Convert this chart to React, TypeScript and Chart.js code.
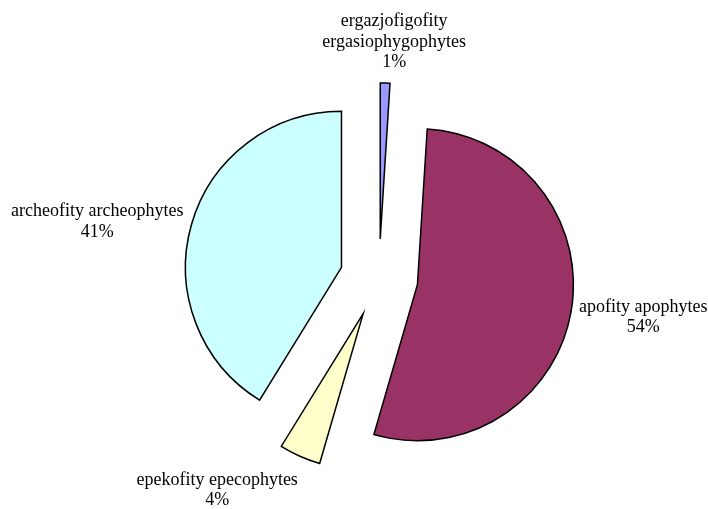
import { useEffect, useRef } from 'react';
import { Chart, ArcElement, PieController, registerables } from 'chart.js';

// Share of each synanthropic group (percent of species)
const categories: string[][] = [
  ['ergazjofigofity', 'ergasiophygophytes'],
  ['apofity apophytes'],
  ['epekofity epecophytes'],
  ['archeofity archeophytes'],
];
const shares: number[] = [1.0, 53.5, 4.3, 41.2];
const sliceColors: string[] = ['#9999FF', '#993366', '#FFFFCC', '#CCFFFF'];

// Distance every slice is pulled out of the pie, and the pie radius
const EXPLODE = 39;
const RADIUS = 156;
const LINE_HEIGHT = 20.5;

// Label block placement relative to the point just outside each slice
const LABEL_PLACEMENT = [
  { align: 'center', dx: 9, dy: -57 },
  { align: 'left', dx: 8, dy: 0 },
  { align: 'right', dx: -2, dy: 28.5 },
  { align: 'right', dx: -8, dy: -8.5 },
];

// Arc that is drawn shifted outward along its mid-angle without changing its radius
class ExplodedArc extends ArcElement {
  static id = 'explodedArc';
  draw(ctx: CanvasRenderingContext2D) {
    const self: any = this;
    const mid = (self.startAngle + self.endAngle) / 2;
    ctx.save();
    ctx.translate(Math.cos(mid) * EXPLODE, Math.sin(mid) * EXPLODE);
    super.draw(ctx);
    ctx.restore();
  }
}

class ExplodedPieController extends PieController {
  static id = 'explodedPie';
  static defaults = { dataElementType: 'explodedArc' };
}

Chart.register(...registerables);
Chart.register(ExplodedArc as any, ExplodedPieController as any);

const sliceLabels = {
  id: 'sliceLabels',
  afterDatasetsDraw(chart: any) {
    const ctx: CanvasRenderingContext2D = chart.ctx;
    const meta = chart.getDatasetMeta(0);
    const total = shares.reduce((a, b) => a + b, 0);
    ctx.save();
    ctx.font = '18px "Liberation Serif", "Times New Roman", serif';
    ctx.fillStyle = '#000000';
    ctx.textAlign = 'center';
    ctx.textBaseline = 'alphabetic';
    meta.data.forEach((arc: any, i: number) => {
      const { x, y, startAngle, endAngle, outerRadius } = arc.getProps(
        ['x', 'y', 'startAngle', 'endAngle', 'outerRadius'],
        true
      );
      const mid = (startAngle + endAngle) / 2;
      const r = outerRadius + EXPLODE;
      const px = x + Math.cos(mid) * r;
      const py = y + Math.sin(mid) * r;
      const pct = Math.round((shares[i] * 100) / total);
      const lines = [...categories[i], pct + '%'];
      const w = Math.max(...lines.map((l) => ctx.measureText(l).width));
      const p = LABEL_PLACEMENT[i];
      const cx = px + p.dx + (p.align === 'left' ? w / 2 : p.align === 'right' ? -w / 2 : 0);
      lines.forEach((l, k) => ctx.fillText(l, cx, py + p.dy + k * LINE_HEIGHT));
    });
    ctx.restore();
  },
};

export default function App() {
  const canvasRef = useRef<HTMLCanvasElement | null>(null);

  useEffect(() => {
    if (!canvasRef.current) return;
    const chart = new Chart(canvasRef.current, {
      type: 'explodedPie' as any,
      data: {
        labels: categories.map((c) => c.join(' ')),
        datasets: [
          {
            data: shares,
            backgroundColor: sliceColors,
            borderColor: '#000000',
            borderWidth: 1.5,
            borderJoinStyle: 'miter',
            radius: RADIUS,
            hoverOffset: 0,
          } as any,
        ],
      },
      options: {
        responsive: false,
        animation: false,
        events: [],
        layout: { padding: { left: 50, top: 47, right: 0, bottom: 0 } },
        plugins: {
          legend: { display: false },
          tooltip: { enabled: false },
        },
      } as any,
      plugins: [sliceLabels],
    });
    return () => chart.destroy();
  }, []);

  return (
    <div style={{ position: 'fixed', left: 0, top: 0, width: 708, height: 509, background: '#ffffff' }}>
      <canvas ref={canvasRef} width={708} height={509} />
    </div>
  );
}
